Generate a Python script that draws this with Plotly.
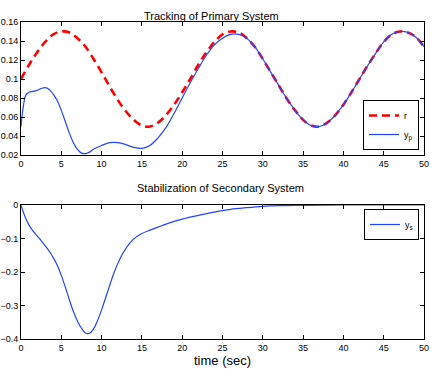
import plotly.graph_objects as go

# reference r(t)
t_r = list(range(0, 51))
r_vals = [0.100, 0.115, 0.128, 0.139, 0.147, 0.150, 0.149, 0.143, 0.134, 0.121,
          0.107, 0.092, 0.078, 0.066, 0.057, 0.051, 0.050, 0.054, 0.062, 0.073,
          0.086, 0.100, 0.115, 0.128, 0.139, 0.147, 0.150, 0.149, 0.143, 0.134,
          0.121, 0.107, 0.093, 0.079, 0.067, 0.057, 0.051, 0.050, 0.054, 0.062,
          0.073, 0.086, 0.100, 0.114, 0.127, 0.139, 0.147, 0.150, 0.149, 0.144,
          0.134]

# primary output y_p
t_p = [0, 0.3, 0.6, 1, 1.5, 2, 2.5, 3, 3.5, 4, 4.5, 5, 5.5, 6, 6.5, 7, 7.5, 8, 8.5, 9,
       10, 11, 12, 13, 14, 15, 16, 17, 18, 19, 20, 21, 22, 23, 24, 25, 26, 27, 28, 29,
       30, 31, 32, 33, 34, 35, 36, 37, 38, 39, 40, 41, 42, 43, 44, 45, 46, 47, 48, 49, 50]
yp_vals = [0.050, 0.072, 0.083, 0.086, 0.087, 0.088, 0.090, 0.091, 0.089, 0.084,
           0.077, 0.067, 0.055, 0.043, 0.033, 0.026, 0.022, 0.0215, 0.023, 0.026,
           0.030, 0.033, 0.033, 0.031, 0.028, 0.027, 0.030, 0.038, 0.049, 0.064,
           0.080, 0.096, 0.111, 0.125, 0.136, 0.143, 0.147, 0.147, 0.143, 0.134,
           0.121, 0.107, 0.093, 0.079, 0.067, 0.057, 0.051, 0.050, 0.054, 0.062,
           0.073, 0.086, 0.100, 0.114, 0.127, 0.139, 0.147, 0.150, 0.149, 0.144,
           0.134]

# secondary output y_s
t_s = [0, 0.5, 1, 1.5, 2, 2.5, 3, 3.5, 4, 4.5, 5, 5.5, 6, 6.5, 7, 7.5, 8, 8.5, 9, 9.5,
       10, 10.5, 11, 11.5, 12, 12.5, 13, 13.5, 14, 15, 16, 17, 18, 19, 20, 22, 24, 26,
       28, 30, 32, 35, 40, 45, 50]
ys_vals = [0, -0.035, -0.060, -0.078, -0.092, -0.106, -0.122, -0.138, -0.157, -0.180,
           -0.210, -0.245, -0.283, -0.318, -0.346, -0.368, -0.382, -0.383, -0.370, -0.345,
           -0.313, -0.277, -0.240, -0.205, -0.175, -0.150, -0.130, -0.114, -0.101, -0.085,
           -0.075, -0.066, -0.057, -0.049, -0.042, -0.031, -0.021, -0.013, -0.008, -0.004,
           -0.002, -0.001, 0, 0, 0]

FONT = "Liberation Sans, Arial, sans-serif"
BLUE = "#2444ff"

fig = go.Figure()
fig.add_trace(go.Scatter(x=t_r, y=r_vals, mode="lines", name="r",
                         line=dict(color="#ff0000", width=2.6, dash="8px,5px", shape="spline"),
                         xaxis="x", yaxis="y", legend="legend"))
fig.add_trace(go.Scatter(x=t_p, y=yp_vals, mode="lines", name="y<sub>p</sub>",
                         line=dict(color=BLUE, width=1.2, shape="spline"),
                         xaxis="x", yaxis="y", legend="legend"))
fig.add_trace(go.Scatter(x=t_s, y=ys_vals, mode="lines", name="y<sub>s</sub>",
                         line=dict(color=BLUE, width=1.2, shape="spline"),
                         xaxis="x2", yaxis="y2", legend="legend2"))

ax = dict(showline=True, linecolor="black", linewidth=1, mirror="ticks",
          ticks="inside", ticklen=4, tickcolor="black", showgrid=False,
          zeroline=False, tickfont=dict(size=9, color="black"), automargin=False)

xd = [21/432, 424/432]
fig.update_layout(
    width=432, height=369,
    margin=dict(l=0, r=0, t=0, b=0),
    paper_bgcolor="white", plot_bgcolor="white",
    font=dict(family=FONT, color="black"),
    xaxis=dict(ax, domain=xd, range=[0, 50], tickvals=list(range(0, 51, 5)), anchor="y"),
    yaxis=dict(ax, domain=[1 - 155/369, 1 - 22/369], range=[0.02, 0.16],
               tickvals=[0.02, 0.04, 0.06, 0.08, 0.1, 0.12, 0.14, 0.16],
               ticktext=["0.02", "0.04", "0.06", "0.08", "0.1", "0.12", "0.14", "0.16"],
               anchor="x"),
    xaxis2=dict(ax, domain=xd, range=[0, 50], tickvals=list(range(0, 51, 5)), anchor="y2",
                title=dict(text="time (sec)", font=dict(size=13), standoff=4)),
    yaxis2=dict(ax, domain=[1 - 339/369, 1 - 205/369], range=[-0.4, 0],
                tickvals=[-0.4, -0.3, -0.2, -0.1, 0],
                ticktext=["−0.4", "−0.3", "−0.2", "−0.1", "0"], anchor="x2"),
    legend=dict(x=419/432, xanchor="right", y=1 - 150/369, yanchor="bottom",
                bordercolor="black", borderwidth=1, bgcolor="white",
                font=dict(size=9), itemwidth=30, tracegroupgap=0),
    legend2=dict(x=419/432, xanchor="right", y=1 - 209/369, yanchor="top",
                 bordercolor="black", borderwidth=1, bgcolor="white",
                 font=dict(size=9), itemwidth=30),
    annotations=[
        dict(text="Tracking of Primary System", x=211/432, y=1 - 8/369,
             xref="paper", yref="paper", showarrow=False, font=dict(size=11)),
        dict(text="Stabilization of Secondary System", x=220/432, y=1 - 188/369,
             xref="paper", yref="paper", showarrow=False, font=dict(size=11)),
    ],
)

# the page body has a default 8px margin; drop it so the figure fills the window
fig.write_html("out.html", config={"displayModeBar": False},
               post_script="document.body.style.margin='0';document.body.style.overflow='hidden';")
